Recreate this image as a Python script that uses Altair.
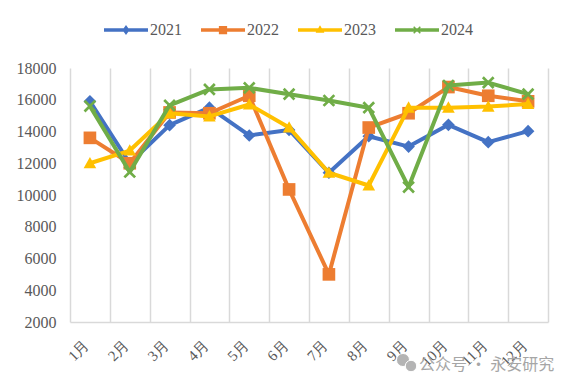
import json
import altair as alt
import pandas as pd

months = ["1月", "2月", "3月", "4月", "5月", "6月", "7月", "8月", "9月", "10月", "11月", "12月"]
years = ["2021", "2022", "2023", "2024"]
v2021 = [15900, 12000, 14400, 15500, 13750, 14100, 11400, 13700, 13050, 14420, 13330, 14020]
v2022 = [13600, 12000, 15200, 15150, 16250, 10350, 5000, 14250, 15150, 16800, 16250, 15900]
v2023 = [12000, 12800, 15150, 14950, 15700, 14250, 11400, 10600, 15500, 15500, 15570, 15730]
v2024 = [15600, 11450, 15650, 16650, 16750, 16350, 15950, 15500, 10500, 16900, 17080, 16350]
series = [v2021, v2022, v2023, v2024]
colors = ["#4472C4", "#ED7D31", "#FFC000", "#70AD47"]
y_ticks = [2000, 4000, 6000, 8000, 10000, 12000, 14000, 16000, 18000]
watermark = "公众号 · 永安研究"

# marker shapes (clockwise so unions fill correctly)
DIAMOND = "M0,-1 L1,0 L0,1 L-1,0 Z"
SQUARE = "M-1,-1 L1,-1 L1,1 L-1,1 Z"
TRIANGLE = "M0,-1 L1,0.8 L-1,0.8 Z"
XMARK = "M-1,-0.7 L-0.7,-1 L0,-0.3 L0.7,-1 L1,-0.7 L0.3,0 L1,0.7 L0.7,1 L0,0.3 L-0.7,1 L-1,0.7 L-0.3,0 Z"
markers = [DIAMOND, SQUARE, TRIANGLE, XMARK]

# legend symbols: a line segment with a smaller marker on it
L_DIAMOND = "M0,-0.9 L0.65,0 L0,0.9 L-0.65,0 Z"
L_SQUARE = "M-0.75,-0.75 L0.75,-0.75 L0.75,0.75 L-0.75,0.75 Z"
L_TRIANGLE = "M0,-0.85 L0.8,0.5 L-0.8,0.5 Z"
L_XMARK = "M-0.7,-0.5 L-0.5,-0.7 L0,-0.2 L0.5,-0.7 L0.7,-0.5 L0.2,0 L0.7,0.5 L0.5,0.7 L0,0.2 L-0.5,0.7 L-0.7,0.5 L-0.2,0 Z"
BAR = "M-4,-0.33 L4,-0.33 L4,0.33 L-4,0.33 Z "
legend_paths = [BAR + m for m in [L_DIAMOND, L_SQUARE, L_TRIANGLE, L_XMARK]]

rows = []
for y, vals in zip(years, series):
    for i, v in enumerate(vals):
        rows.append({"m": i + 1, "month": months[i], "year": y, "value": v})
df = pd.DataFrame(rows)

FONT = "Liberation Serif"
TXT = "#595959"
GRID = "#D9D9D9"

label_expr = json.dumps(months + [""], ensure_ascii=False) + "[floor(datum.value)]"

x_enc = alt.X(
    "m:Q",
    scale=alt.Scale(domain=[0.5, 12.5], nice=False, zero=False),
    axis=alt.Axis(
        values=[i + 0.5 for i in range(13)],
        labelExpr=label_expr,
        grid=True,
        gridColor=GRID,
        gridWidth=1.5,
        domainColor=GRID,
        domainWidth=1.5,
        ticks=False,
        labelAngle=-45,
        labelAlign="right",
        labelBaseline="middle",
        labelOffset=16,
        labelPadding=20,
        labelFont=FONT,
        labelFontSize=15,
        labelColor=TXT,
        title=None,
    ),
)
y_enc = alt.Y(
    "value:Q",
    scale=alt.Scale(domain=[2000, 18000], nice=False, zero=False),
    axis=alt.Axis(
        values=y_ticks,
        format="d",
        grid=False,
        domain=False,
        ticks=False,
        labelPadding=14,
        labelFont=FONT,
        labelFontSize=16,
        labelColor=TXT,
        title=None,
    ),
)

layers = []
for y, c, mk in zip(years, colors, markers):
    sub = alt.Chart(df).transform_filter(alt.datum.year == y)
    layers.append(
        sub.mark_line(color=c, strokeWidth=4, strokeJoin="round", strokeCap="round").encode(x=x_enc, y=y_enc)
    )
    layers.append(
        sub.mark_point(filled=True, shape=mk, size=160, color=c, opacity=1, strokeWidth=0).encode(x=x_enc, y=y_enc)
    )

leg = alt.Legend(
    orient="none",
    legendX=48,
    legendY=-46,
    direction="horizontal",
    columns=4,
    gridAlign="all",
    title=None,
    labelFont=FONT,
    labelFontSize=16,
    labelColor=TXT,
    symbolSize=121,
    symbolStrokeWidth=0,
    symbolOffset=0,
    labelOffset=16,
    columnPadding=19,
)
legend_layer = (
    alt.Chart(df)
    .transform_filter("false")
    .mark_point(filled=True, opacity=1, strokeWidth=0)
    .encode(
        x=x_enc,
        y=y_enc,
        color=alt.Color("year:N", scale=alt.Scale(domain=years, range=colors), legend=leg),
        shape=alt.Shape("year:N", scale=alt.Scale(domain=years, range=legend_paths), legend=leg),
    )
)
layers.append(legend_layer)

# watermark: chat-bubble icon + text
icon = (
    alt.Chart(pd.DataFrame({"k": ["a", "b"], "s": [170, 130], "dx": [333, 341], "dy": [292, 298]}))
    .mark_point(filled=True, shape="circle", color="#B4B4B4", opacity=1, stroke="white", strokeWidth=1)
    .encode(x=alt.X("dx:Q", scale=None), y=alt.Y("dy:Q", scale=None), size=alt.Size("s:Q", scale=None, legend=None))
)
wm = (
    alt.Chart(pd.DataFrame({"t": [watermark]}))
    .mark_text(font="Noto Sans CJK SC", fontSize=16, color="#A6A6A6", align="left", baseline="middle")
    .encode(text="t:N", x=alt.value(349), y=alt.value(297))
)
layers.append(icon)
layers.append(wm)

chart = (
    alt.layer(*layers)
    .properties(
        width=478,
        height=254,
        padding={"left": 62, "top": 60, "right": 15, "bottom": 60},
        autosize=alt.AutoSizeParams(type="none"),
        background="white",
    )
    .configure_view(stroke=None)
)

chart.save("out.html", embed_options={"renderer": "svg", "actions": False})
